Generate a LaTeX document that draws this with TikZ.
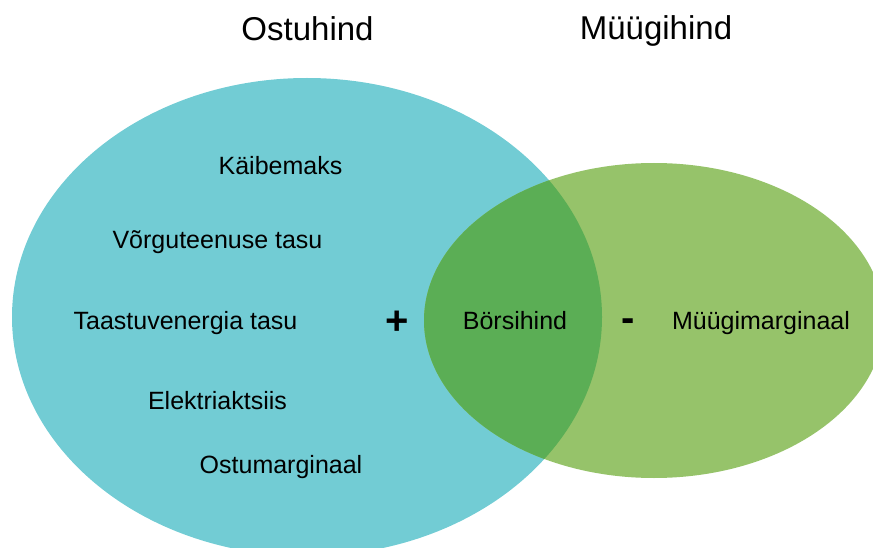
\documentclass[tikz,border=0pt]{standalone}
\usepackage{fontspec}
\setmainfont{Liberation Sans}
\definecolor{buyset}{RGB}{114,204,212}
\definecolor{sellset}{RGB}{150,195,106}
\definecolor{shared}{RGB}{91,174,85}
\begin{document}
\begin{tikzpicture}[x=1pt,y=-1pt,
  title/.style={anchor=base,font=\fontsize{33}{39}\selectfont,text=black},
  item/.style={anchor=base,font=\fontsize{25}{30}\selectfont,text=black},
  sign/.style={anchor=base,font=\fontsize{40}{46}\selectfont\bfseries,text=black}]
\useasboundingbox (0,0) rectangle (873,548);
\clip (0,0) rectangle (873,548);
% the two sets
\fill[buyset] (307,317) ellipse [x radius=295, y radius=239];
\fill[sellset] (654,320.5) ellipse [x radius=230, y radius=157.5];
% their common part
\begin{scope}
  \clip (307,317) ellipse [x radius=295, y radius=239];
  \fill[shared] (654,320.5) ellipse [x radius=230, y radius=157.5];
\end{scope}
% headings
\node[title] (buy) at (307.5,41) {Ostuhind};
\node[title] (sell) at (656,40) {Müügihind};
% purchase price components
\node[item] (vat) at (280.5,175) {Käibemaks};
\node[item] (grid) at (217.5,248) {Võrguteenuse tasu};
\node[item] (renew) at (185.5,329) {Taastuvenergia tasu};
\node[item] (excise) at (217.5,409) {Elektriaktsiis};
\node[item] (bmargin) at (281,473) {Ostumarginaal};
% shared and sale components
\node[item] (spot) at (515,329) {Börsihind};
\node[item] (smargin) at (761,329) {Müügimarginaal};
\node[sign] (plus) at (397,334) {+};
\node[sign] (minus) at (628,331) {-};
\end{tikzpicture}
\end{document}
